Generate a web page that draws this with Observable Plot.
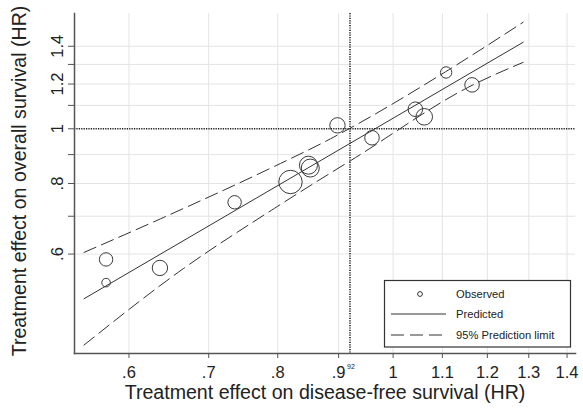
<!DOCTYPE html>
<html>
<head>
<meta charset="utf-8">
<script src="https://cdn.jsdelivr.net/npm/d3@7"></script>
<script src="https://cdn.jsdelivr.net/npm/@observablehq/plot@0.6"></script>
<style>
  html, body { margin: 0; padding: 0; background: #fff; }
</style>
</head>
<body>
<div id="chart"></div>
<script>
// Observed trials: treatment effect (HR) on DFS vs OS, with trial weight
const dfsHR = [0.574, 0.574, 0.637, 0.736, 0.820, 0.849, 0.852, 0.898, 0.960, 1.044, 1.062, 1.108, 1.165];
const osHR  = [0.587, 0.534, 0.567, 0.741, 0.805, 0.862, 0.852, 1.014, 0.964, 1.083, 1.050, 1.258, 1.196];
const trialWeight = [450, 185, 590, 450, 1370, 810, 810, 590, 530, 530, 690, 325, 530];

// Predicted (regression) line
const predDFS = [0.550, 1.286];
const predOS  = [0.500, 1.423];

// 95% prediction limits
const upperDFS = [0.550, 0.638, 0.795, 0.886, 0.927, 1.107, 1.286];
const upperOS  = [0.604, 0.693, 0.858, 0.960, 1.011, 1.262, 1.544];
const lowerDFS = [0.550, 0.667, 0.795, 0.886, 0.921, 1.167, 1.286];
const lowerOS  = [0.414, 0.566, 0.723, 0.835, 0.878, 1.196, 1.311];

// Reference lines: HR = 1 on OS, surrogate threshold effect on DFS
const refOS = [1];
const steDFS = [0.92];

// Ticks
const xTicks = [0.6, 0.7, 0.8, 0.9, 1, 1.1, 1.2, 1.3, 1.4];
const yTicks = [0.6, 0.7, 0.8, 0.9, 1, 1.1, 1.2, 1.3, 1.4];
const yLabelTicks = [0.6, 0.8, 1, 1.2, 1.4];

const xTitle = "Treatment effect on disease-free survival (HR)";
const yTitle = "Treatment effect on overall survival (HR)";
const legendLabels = ["Observed", "Predicted", "95% Prediction limit"];

const fmt = d => (d < 1 ? String(d).replace(/^0/, "") : String(d));

const trials = dfsHR.map((x, i) => ({x, y: osHR[i], w: trialWeight[i]}));
const pred = predDFS.map((x, i) => ({x, y: predOS[i]}));
const upper = upperDFS.map((x, i) => ({x, y: upperOS[i]}));
const lower = lowerDFS.map((x, i) => ({x, y: lowerOS[i]}));

const FONT = "'Liberation Sans', Arial, Helvetica, sans-serif";
const AX = "#555";
const INK = "#333";

const chart = Plot.plot({
  width: 583,
  height: 415,
  marginLeft: 74,
  marginRight: 8,
  marginTop: 13,
  marginBottom: 62,
  style: {fontFamily: FONT, fontSize: "16px", color: "#222", background: "#fff"},
  x: {type: "log", domain: [0.54, 1.423]},
  y: {type: "log", domain: [0.4, 1.6]},
  r: {type: "sqrt", domain: [0, 1370], range: [0, 11.7]},
  marks: [
    Plot.gridX(xTicks, {stroke: "#e4e4e4", strokeOpacity: 1}),
    Plot.gridY(yTicks, {stroke: "#e4e4e4", strokeOpacity: 1}),
    Plot.ruleY(refOS, {y: d => d, stroke: "#222", strokeWidth: 1.6, strokeDasharray: "1.2,1.2"}),
    Plot.ruleX(steDFS, {x: d => d, stroke: "#222", strokeWidth: 1.6, strokeDasharray: "1.2,1.2"}),
    Plot.line(upper, {x: "x", y: "y", curve: "monotone-x", stroke: INK, strokeWidth: 1, strokeDasharray: "13,6"}),
    Plot.line(lower, {x: "x", y: "y", curve: "monotone-x", stroke: INK, strokeWidth: 1, strokeDasharray: "13,6"}),
    Plot.line(pred, {x: "x", y: "y", stroke: INK, strokeWidth: 1}),
    Plot.dot(trials, {x: "x", y: "y", r: "w", stroke: "#3a3a3a", strokeWidth: 1, fill: "none"}),
    Plot.frame({anchor: "left", stroke: AX, strokeWidth: 1.5}),
    Plot.frame({anchor: "bottom", stroke: AX, strokeWidth: 1.5}),
    Plot.axisX({ticks: xTicks, tickFormat: fmt, tickSize: 5, tickPadding: 8, label: null, fontSize: 16.5, stroke: AX}),
    Plot.axisY({ticks: yTicks, tickFormat: () => "", tickSize: 6, label: null, stroke: AX}),
    Plot.text(yLabelTicks, {y: d => d, text: fmt, frameAnchor: "left", textAnchor: "middle", rotate: -90, dx: -17, fontSize: 16.5, fill: "#222"}),
    Plot.text(steDFS, {x: d => d, text: d => String(Math.round(d * 100)), frameAnchor: "bottom", dy: 15, dx: -3, textAnchor: "start", fontSize: 7, fill: "#222"}),
    Plot.text([xTitle], {frameAnchor: "bottom", textAnchor: "middle", dy: 45.7, fontSize: 19.6, fill: "#222"}),
    Plot.text([yTitle], {frameAnchor: "left", textAnchor: "middle", rotate: -90, dx: -55, dy: -2.5, fontSize: 19.6, fill: "#222"})
  ]
});

document.getElementById("chart").appendChild(chart);

// Legend box (bottom-right, inside the plot region)
const svg = d3.select(chart);
const lg = svg.append("g")
  .attr("font-family", FONT)
  .attr("font-size", 11.2)
  .attr("text-anchor", "start")
  .attr("fill", "#222");
lg.append("rect")
  .attr("x", 384.5).attr("y", 280.5)
  .attr("width", 186).attr("height", 66.5)
  .attr("fill", "#fff").attr("stroke", "#333").attr("stroke-width", 1.2);
const rowsY = [294, 314, 335];
lg.append("circle").attr("cx", 420).attr("cy", rowsY[0]).attr("r", 2.4)
  .attr("fill", "none").attr("stroke", INK).attr("stroke-width", 1);
lg.append("line").attr("x1", 391).attr("x2", 446).attr("y1", rowsY[1]).attr("y2", rowsY[1])
  .attr("stroke", INK).attr("stroke-width", 1);
lg.append("line").attr("x1", 391).attr("x2", 446).attr("y1", rowsY[2]).attr("y2", rowsY[2])
  .attr("stroke", INK).attr("stroke-width", 1).attr("stroke-dasharray", "13,6");
legendLabels.forEach((t, i) => {
  lg.append("text").attr("x", 456).attr("y", rowsY[i]).attr("dy", "0.35em")
    .attr("text-anchor", "start").text(t);
});
</script>
</body>
</html>
